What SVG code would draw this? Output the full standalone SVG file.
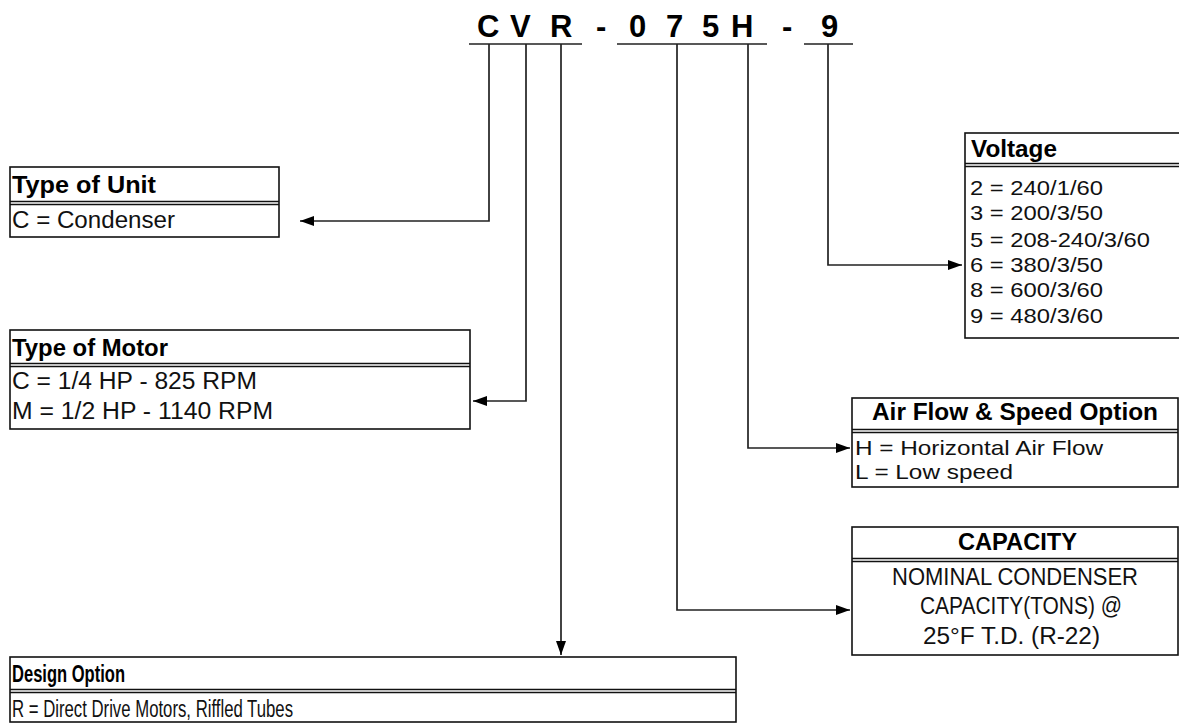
<svg xmlns="http://www.w3.org/2000/svg" width="1179" height="727" viewBox="0 0 1179 727">
<style>
.bx{fill:#fff;stroke:#111;stroke-width:1.6}
.sep{stroke:#111;stroke-width:1.3}
.hd{font-family:"Liberation Sans",Arial,sans-serif;font-weight:bold;font-size:23px;fill:#000}
.tx{font-family:"Liberation Sans",Arial,sans-serif;font-size:23px;fill:#111}
.sm{font-size:21px}
.ttl{font-family:"Liberation Sans",Arial,sans-serif;font-weight:bold;font-size:31px;fill:#000}
.ln{fill:none;stroke:#222;stroke-width:1.7}
</style>
<defs>
<marker id="ah" markerUnits="userSpaceOnUse" markerWidth="16" markerHeight="12" refX="14" refY="5" orient="auto">
<path d="M0,0 L14,5 L0,10 Z" fill="#000"/>
</marker>
</defs>
<g id="title">
<text class="ttl" y="37" x="477 500 510 532 550 573 596 606 629 647 666 684 702 720 731 756 782 792 821">C V R - 0 7 5 H - 9</text>
<path class="ln" d="M469 44 H582 M617 44 H767 M804 44 H853" stroke-width="2"/>
</g>
<g id="connectors">
<path class="ln" d="M489 44 V221 H300" marker-end="url(#ah)"/>
<path class="ln" d="M526 44 V401 H473" marker-end="url(#ah)"/>
<path class="ln" d="M561 44 V655" marker-end="url(#ah)" stroke="#555"/>
<path class="ln" d="M677 44 V610 H850" marker-end="url(#ah)"/>
<path class="ln" d="M748 44 V448 H850" marker-end="url(#ah)"/>
<path class="ln" d="M828 44 V265 H962" marker-end="url(#ah)"/>
</g>
<g id="type-of-unit">
<rect class="bx" x="10" y="167" width="269" height="70"/>
<path class="sep" d="M10 201.5 H279 M10 204.5 H279"/>
<text class="hd" x="12" y="193" textLength="144" lengthAdjust="spacingAndGlyphs">Type of Unit</text>
<text class="tx" x="12" y="228" textLength="163" lengthAdjust="spacingAndGlyphs">C = Condenser</text>
</g>
<g id="type-of-motor">
<rect class="bx" x="10" y="330" width="460" height="99"/>
<path class="sep" d="M10 363.5 H470 M10 366.5 H470"/>
<text class="hd" x="12" y="356" textLength="156" lengthAdjust="spacingAndGlyphs">Type of Motor</text>
<text class="tx" x="12" y="389" textLength="245" lengthAdjust="spacingAndGlyphs">C = 1/4 HP - 825 RPM</text>
<text class="tx" x="12" y="419" textLength="261" lengthAdjust="spacingAndGlyphs">M = 1/2 HP - 1140 RPM</text>
</g>
<g id="voltage">
<rect class="bx" x="965" y="133" width="230" height="205"/>
<path class="sep" d="M965 163.5 H1190 M965 166.5 H1190"/>
<text class="hd" x="971" y="157" textLength="86" lengthAdjust="spacingAndGlyphs">Voltage</text>
<text class="tx sm" x="970" y="195" textLength="133" lengthAdjust="spacingAndGlyphs">2 = 240/1/60</text>
<text class="tx sm" x="970" y="220" textLength="133" lengthAdjust="spacingAndGlyphs">3 = 200/3/50</text>
<text class="tx sm" x="970" y="247" textLength="180" lengthAdjust="spacingAndGlyphs">5 = 208-240/3/60</text>
<text class="tx sm" x="970" y="272" textLength="133" lengthAdjust="spacingAndGlyphs">6 = 380/3/50</text>
<text class="tx sm" x="970" y="297" textLength="133" lengthAdjust="spacingAndGlyphs">8 = 600/3/60</text>
<text class="tx sm" x="970" y="323" textLength="133" lengthAdjust="spacingAndGlyphs">9 = 480/3/60</text>
</g>
<g id="air-flow">
<rect class="bx" x="852" y="398" width="326" height="89"/>
<path class="sep" d="M852 429.5 H1178 M852 432.5 H1178"/>
<text class="hd" x="872" y="420" textLength="286" lengthAdjust="spacingAndGlyphs">Air Flow &amp; Speed Option</text>
<text class="tx sm" x="855" y="455" textLength="248" lengthAdjust="spacingAndGlyphs">H = Horizontal Air Flow</text>
<text class="tx sm" x="855" y="479" textLength="158" lengthAdjust="spacingAndGlyphs">L = Low speed</text>
</g>
<g id="capacity">
<rect class="bx" x="852" y="527" width="326" height="128"/>
<path class="sep" d="M852 558.5 H1178 M852 561.5 H1178"/>
<text class="hd" x="958" y="550" textLength="119" lengthAdjust="spacingAndGlyphs">CAPACITY</text>
<text class="tx" x="892" y="585" textLength="246" lengthAdjust="spacingAndGlyphs">NOMINAL CONDENSER</text>
<text class="tx" x="920" y="614" textLength="202" lengthAdjust="spacingAndGlyphs">CAPACITY(TONS) @</text>
<text class="tx" x="923" y="644" textLength="177" lengthAdjust="spacingAndGlyphs">25°F T.D. (R-22)</text>
</g>
<g id="design-option">
<rect class="bx" x="10" y="657" width="726" height="65"/>
<path class="sep" d="M10 689.5 H736 M10 692.5 H736"/>
<text class="hd" x="12" y="682" font-size="21" textLength="113" lengthAdjust="spacingAndGlyphs">Design Option</text>
<text class="tx" x="12" y="717" font-size="21" textLength="281" lengthAdjust="spacingAndGlyphs">R = Direct Drive Motors, Riffled Tubes</text>
</g>
</svg>
